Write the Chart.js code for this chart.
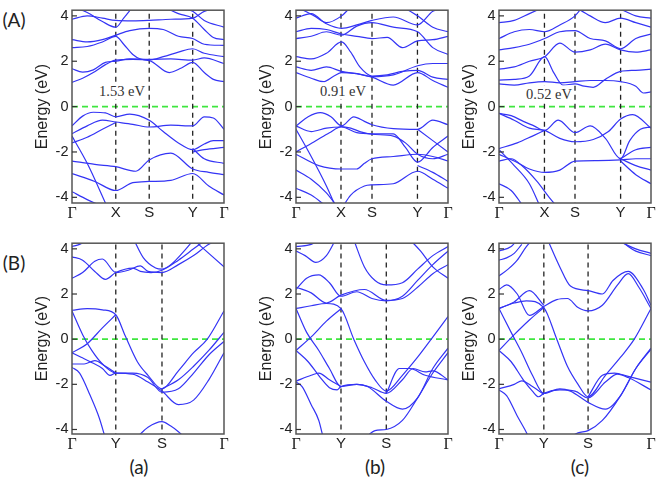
<!DOCTYPE html>
<html>
<head>
<meta charset="utf-8">
<script src="https://cdn.jsdelivr.net/npm/chart.js@4.4.1/dist/chart.umd.min.js"></script>
<style>
    body { margin: 0; background: #fff; width: 661px; height: 490px; position: relative; overflow: hidden; }
    canvas { position: absolute; }
    .lbl { position: absolute; font-family: Lato, "Open Sans", sans-serif; font-size: 19px; color: #222; transform: translate(-50%, -50%); white-space: nowrap; }
    .gap { position: absolute; font-family: "Liberation Serif", "DejaVu Serif", serif; font-size: 14.5px; color: #333; background: #fff; padding: 0 1px; transform: translate(-50%, -50%); white-space: nowrap; }
</style>
</head>
<body>
<div class="lbl" style="left:14px;top:19px">(A)</div>
<div class="lbl" style="left:14px;top:262px">(B)</div>
<div class="lbl" style="left:139px;top:466px">(a)</div>
<div class="lbl" style="left:375px;top:466px">(b)</div>
<div class="lbl" style="left:580px;top:466px">(c)</div>

<script>
// ===== AXIS LABELS =====
var tickNamesA = ['Γ', 'X', 'S', 'Y', 'Γ'];
var tickNamesB = ['Γ', 'Y', 'S', 'Γ'];
var energyTicks = [-4, -2, 0, 2, 4];
var gapLabels = ['1.53 eV', '0.91 eV', '0.52 eV'];

// high-symmetry point positions along the path (0..1)
var kTicksAa = [0, 0.288, 0.508, 0.794, 1];
var kTicksAb = [0, 0.296, 0.5, 0.799, 1];
var kTicksAc = [0, 0.299, 0.5, 0.8, 1];
var kTicksBa = [0, 0.288, 0.592, 1];
var kTicksBb = [0, 0.296, 0.594, 1];
var kTicksBc = [0, 0.295, 0.586, 1];

// ===== BANDS: [k, E (eV)] =====
var bandsAa = [
    [[0,1.07],[0.07,1.25],[0.14,1.5],[0.22,1.85],[0.288,2.05],[0.4,2.08],[0.508,2.03],[0.64,1.5],[0.72,1.7],[0.794,1.95],[0.87,1.5],[0.93,1.2],[1,1.1]],
    [[0,1.67],[0.07,1.52],[0.14,1.62],[0.22,1.95],[0.288,2.0],[0.38,2.1],[0.508,2.08],[0.65,2.1],[0.794,2.05],[0.87,2.15],[1,1.9]],
    [[0,2.6],[0.1,2.65],[0.2,2.85],[0.288,3.1],[0.34,2.75],[0.4,2.3],[0.45,2.1],[0.508,2.06],[0.6,2.2],[0.7,2.4],[0.794,2.55],[0.87,2.35],[1,2.2]],
    [[0,2.95],[0.1,2.85],[0.2,2.95],[0.288,3.15],[0.38,3.35],[0.508,3.45],[0.6,3.4],[0.7,3.1],[0.794,3.0],[0.87,2.75],[1,2.7]],
    [[0,3.85],[0.1,4.0],[0.2,3.9],[0.288,3.8],[0.4,3.78],[0.508,3.8],[0.65,3.85],[0.794,3.9],[0.87,4.2],[1,4.4]],
    [[0,4.4],[0.1,4.15],[0.2,3.75],[0.288,3.5],[0.34,3.9],[0.4,4.4]],
    [[0.6,4.4],[0.7,4.1],[0.794,3.9],[0.87,3.4],[0.93,3.05],[1,2.95]],
    [[0.7,4.4],[0.794,4.2],[0.87,3.8],[1,3.5]],
    [[0,-0.85],[0.07,-0.42],[0.14,-0.25],[0.22,-0.28],[0.288,-0.45],[0.38,-0.33],[0.508,-0.6],[0.6,-1.1],[0.7,-1.6],[0.794,-1.9],[0.87,-1.65],[0.93,-1.5],[1,-1.5]],
    [[0,-1.2],[0.1,-0.85],[0.2,-0.6],[0.288,-0.68],[0.4,-0.78],[0.508,-0.9],[0.65,-0.82],[0.794,-0.85],[0.87,-0.45],[0.93,-0.5],[1,-1.0]],
    [[0,-1.6],[0.1,-1.35],[0.2,-1.0],[0.288,-0.7]],
    [[0,-1.3],[0.1,-2.5],[0.23,-4.4]],
    [[0,-2.4],[0.15,-2.55],[0.288,-2.65],[0.42,-2.85],[0.508,-2.35],[0.65,-2.05],[0.794,-2.75],[0.9,-2.9],[1,-3.0]],
    [[0,-2.95],[0.15,-3.3],[0.288,-3.7],[0.4,-3.35],[0.508,-3.3],[0.65,-3.25],[0.794,-2.95],[0.9,-3.5],[1,-3.9]],
    [[0,-3.75],[0.1,-4.1],[0.2,-4.4]],
    [[0.794,-1.85],[0.87,-2.3],[1,-2.5]],
    [[0.794,-2.0],[0.87,-1.9],[1,-1.8]]
];

var bandsAb = [
    [[0,1.5],[0.1,1.25],[0.18,1.1],[0.25,1.35],[0.3,1.5],[0.4,1.45],[0.5,1.3],[0.64,0.95],[0.8,1.5],[0.9,1.15],[1,0.85]],
    [[0,1.75],[0.1,1.6],[0.2,1.75],[0.3,1.55],[0.4,1.45],[0.5,1.32],[0.64,1.4],[0.8,1.8],[0.9,1.9],[1,1.9]],
    [[0,2.2],[0.1,2.1],[0.2,2.35],[0.3,2.85],[0.36,2.4],[0.42,1.75],[0.5,1.35],[0.6,1.4],[0.7,1.55],[0.8,1.6],[0.9,1.3],[1,1.2]],
    [[0,3.0],[0.1,3.1],[0.2,3.3],[0.3,3.15],[0.4,3.55],[0.5,3.7],[0.64,3.5],[0.8,3.3],[0.9,2.6],[1,2.3]],
    [[0,3.3],[0.1,3.45],[0.2,3.4],[0.3,3.2],[0.4,3.1],[0.5,3.0],[0.6,3.05],[0.7,2.6],[0.8,2.9],[0.9,2.95],[1,3.1]],
    [[0,3.9],[0.1,4.1],[0.2,3.65],[0.3,3.45],[0.4,3.6],[0.5,3.8],[0.64,3.95],[0.8,3.6],[0.9,4.2],[1,4.4]],
    [[0,4.4],[0.12,4.0],[0.2,3.7],[0.3,4.0],[0.36,4.4]],
    [[0.7,4.4],[0.8,4.0],[0.9,3.5],[1,3.3]],
    [[0,-0.86],[0.08,-0.45],[0.16,-0.27],[0.23,-0.45],[0.3,-0.85],[0.38,-0.45],[0.45,-0.65],[0.5,-0.8],[0.64,-0.97],[0.8,-1.0],[0.9,-0.6],[1,-0.8]],
    [[0,-0.86],[0.1,-1.1],[0.2,-0.95],[0.3,-0.9],[0.4,-1.15],[0.5,-1.2],[0.64,-1.2],[0.72,-1.8],[0.8,-2.45],[0.9,-1.8],[1,-1.3]],
    [[0,-2.0],[0.12,-1.55],[0.22,-1.15],[0.3,-0.88],[0.36,-0.95],[0.42,-1.1],[0.5,-1.22],[0.64,-1.3],[0.72,-1.6],[0.8,-2.1],[0.9,-2.3],[1,-2.1]],
    [[0,-2.1],[0.15,-2.6],[0.3,-2.75],[0.4,-2.75],[0.45,-2.5],[0.5,-2.3],[0.64,-2.2],[0.8,-2.1],[0.9,-2.2],[1,-2.4]],
    [[0,-1.0],[0.1,-2.2],[0.2,-3.5],[0.26,-4.4]],
    [[0,-2.8],[0.1,-3.2],[0.2,-3.8],[0.27,-4.4]],
    [[0.3,-4.5],[0.36,-3.9],[0.45,-3.5],[0.5,-3.45],[0.64,-3.4],[0.8,-2.85],[0.9,-3.2],[1,-3.6]],
    [[0,-3.6],[0.1,-3.9],[0.2,-4.4]],
    [[0.8,-2.6],[0.9,-2.9],[1,-3.3]],
    [[0.8,-1.0],[0.9,-1.5],[1,-2.0]]
];

var bandsAc = [
    [[0,1.0],[0.1,0.95],[0.2,1.05],[0.3,1.1],[0.4,1.05],[0.5,1.1],[0.6,1.15],[0.7,1.15],[0.8,1.1],[0.9,0.9],[0.95,0.6],[1,0.65]],
    [[0,1.17],[0.1,1.2],[0.2,1.35],[0.3,2.2],[0.36,1.5],[0.42,0.95],[0.5,1.0],[0.56,0.9],[0.62,0.85],[0.7,1.2],[0.8,1.55],[0.9,1.6],[1,1.65]],
    [[0,1.65],[0.1,1.75],[0.2,2.0],[0.3,2.2],[0.4,2.8],[0.5,2.4],[0.6,2.5],[0.7,2.75],[0.8,2.5],[0.9,2.4],[1,2.5]],
    [[0,2.5],[0.1,2.6],[0.2,2.75],[0.3,3.0],[0.4,3.3],[0.5,3.35],[0.6,3.0],[0.7,2.9],[0.8,2.55],[0.9,3.0],[1,3.2]],
    [[0,3.0],[0.1,3.3],[0.2,3.4],[0.3,3.3],[0.4,3.6],[0.5,4.0],[0.55,4.4]],
    [[0,3.7],[0.1,3.8],[0.2,4.1],[0.3,4.4]],
    [[0.5,4.4],[0.6,4.0],[0.7,3.7],[0.8,3.9],[0.9,3.7],[1,3.5]],
    [[0.8,4.3],[0.9,4.0],[1,3.9]],
    [[0,-0.3],[0.08,-0.4],[0.16,-0.65],[0.23,-0.85],[0.3,-1.05],[0.39,-0.6],[0.5,-1.15],[0.6,-0.85],[0.7,-1.4],[0.8,-2.3],[0.86,-1.5],[0.93,-1.0],[1,-0.9]],
    [[0,-0.3],[0.1,-0.6],[0.2,-0.95],[0.3,-1.05],[0.4,-1.4],[0.5,-1.55],[0.62,-1.45],[0.72,-1.1],[0.8,-0.55],[0.88,-0.35],[1,-0.95]],
    [[0,-1.85],[0.12,-1.6],[0.22,-1.3],[0.3,-1.05]],
    [[0,-2.1],[0.1,-2.4],[0.2,-2.75],[0.3,-2.9],[0.4,-2.8],[0.5,-2.4],[0.65,-2.38],[0.8,-2.35],[0.9,-2.3],[1,-2.3]],
    [[0,-2.4],[0.08,-2.3],[0.15,-2.6],[0.25,-3.3],[0.33,-4.0],[0.38,-4.4]],
    [[0,-1.9],[0.1,-2.6],[0.2,-3.4],[0.27,-4.4]],
    [[0,-3.4],[0.08,-3.7],[0.16,-4.4]],
    [[0.8,-2.3],[0.9,-2.6],[1,-2.8]],
    [[0.8,-2.4],[0.9,-3.0],[1,-3.4]],
    [[0.8,-2.3],[0.9,-1.9],[1,-1.8]]
];

var bandsBa = [
    [[0,1.28],[0.1,1.35],[0.2,1.3],[0.288,1.08],[0.35,0.15],[0.43,-1.0],[0.5,-1.6],[0.592,-2.2],[0.7,-1.4],[0.8,-0.6],[0.89,0.0],[1,1.25]],
    [[0,1.25],[0.07,0.2],[0.13,-0.5],[0.2,-1.1],[0.288,-1.5],[0.4,-1.5],[0.5,-1.7],[0.592,-2.35],[0.7,-2.2],[0.8,-1.5],[0.9,-0.7],[1,-0.1]],
    [[0,-0.6],[0.1,-0.2],[0.2,0.5],[0.288,1.08]],
    [[0,-0.6],[0.06,-0.8],[0.12,-1.0],[0.2,-1.3],[0.25,-1.6],[0.288,-1.5],[0.4,-1.55],[0.5,-1.9],[0.592,-2.3],[0.7,-2.9],[0.8,-2.7],[0.9,-1.8],[1,-0.6]],
    [[0,-1.1],[0.08,-1.1],[0.15,-0.95],[0.22,-1.2],[0.288,-1.5]],
    [[0,-1.25],[0.05,-1.5],[0.12,-2.5],[0.18,-3.5],[0.22,-4.4]],
    [[0.42,-4.4],[0.5,-3.9],[0.592,-3.65],[0.65,-3.85],[0.7,-4.1],[0.75,-4.4]],
    [[0.592,-2.2],[0.7,-1.8],[0.8,-1.2],[0.9,-0.5],[1,0.3]],
    [[0,2.7],[0.07,2.95],[0.15,3.45],[0.2,3.55],[0.288,2.95],[0.37,3.05],[0.45,3.25],[0.5,3.0],[0.592,2.95],[0.7,3.3],[0.8,3.7],[0.9,4.2],[1,4.5]],
    [[0,3.65],[0.07,3.5],[0.15,3.0],[0.22,2.65],[0.288,2.95],[0.4,3.15],[0.45,3.0],[0.52,2.95],[0.592,3.05],[0.7,3.5],[0.8,4.0],[0.9,4.5]],
    [[0.4,4.5],[0.47,3.6],[0.55,3.15],[0.592,3.1],[0.65,3.3],[0.75,4.0],[0.8,4.4]],
    [[0,4.1],[0.05,4.2],[0.1,4.4]],
    [[0.8,4.4],[0.9,3.8],[1,3.2]]
];

var bandsBb = [
    [[0,1.36],[0.1,1.48],[0.2,1.58],[0.296,1.35],[0.38,0.0],[0.45,-1.0],[0.52,-1.8],[0.594,-2.3],[0.7,-1.6],[0.8,-0.8],[0.89,0.0],[1,1.0]],
    [[0,1.36],[0.07,0.3],[0.15,-0.5],[0.22,-1.3],[0.296,-2.1],[0.4,-2.0],[0.47,-2.1],[0.594,-2.75],[0.7,-3.1],[0.8,-2.6],[0.9,-1.3],[1,-0.4]],
    [[0,-0.5],[0.1,0.1],[0.2,0.8],[0.296,1.35]],
    [[0,-0.5],[0.08,-1.0],[0.16,-1.7],[0.22,-2.15],[0.27,-2.25],[0.296,-2.1],[0.4,-2.0],[0.5,-2.15],[0.594,-2.4],[0.7,-1.8],[0.77,-1.3],[0.85,-1.45],[0.9,-1.4],[1,-1.8]],
    [[0,-1.86],[0.1,-1.6],[0.15,-1.5],[0.22,-1.8],[0.296,-2.1]],
    [[0,-1.9],[0.04,-2.1],[0.1,-2.9],[0.15,-3.6],[0.18,-4.4]],
    [[0.45,-4.4],[0.52,-4.05],[0.594,-4.0],[0.7,-3.6],[0.8,-2.6],[0.9,-1.5],[1,-0.6]],
    [[0.594,-2.4],[0.68,-1.3],[0.75,-1.3],[0.85,-1.6],[1,-1.8]],
    [[0,2.2],[0.07,2.7],[0.15,2.85],[0.22,2.5],[0.296,1.9],[0.4,2.1],[0.5,1.8],[0.594,1.7],[0.7,1.9],[0.8,2.6],[0.9,3.3],[1,3.9]],
    [[0,2.3],[0.1,2.05],[0.2,1.6],[0.296,1.95],[0.45,2.2],[0.594,1.72],[0.7,1.8],[0.8,2.3],[0.9,2.9],[1,3.3]],
    [[0.38,4.4],[0.45,3.2],[0.52,2.6],[0.594,2.4],[0.7,2.5],[0.8,3.1],[0.9,3.7],[1,4.1]],
    [[0,3.9],[0.06,3.7],[0.13,3.4],[0.2,3.7],[0.26,4.4]],
    [[0,4.1],[0.1,4.2],[0.15,4.4]],
    [[0.75,4.4],[0.82,3.9],[0.9,3.2],[1,2.7]]
];

var bandsBc = [
    [[0,1.36],[0.1,1.6],[0.18,1.7],[0.295,1.4],[0.38,0.0],[0.45,-1.2],[0.52,-2.0],[0.586,-2.55],[0.7,-1.6],[0.8,-0.8],[0.89,0.0],[1,1.36]],
    [[0,1.36],[0.08,0.3],[0.15,-0.6],[0.22,-1.6],[0.295,-2.4],[0.4,-2.2],[0.47,-2.3],[0.586,-2.8],[0.7,-3.1],[0.8,-2.5],[0.9,-1.3],[1,-0.4]],
    [[0,-0.5],[0.1,0.2],[0.2,0.85],[0.295,1.4]],
    [[0,-0.5],[0.08,-1.0],[0.16,-1.8],[0.22,-2.3],[0.26,-2.55],[0.295,-2.4],[0.4,-2.25],[0.5,-2.3],[0.586,-2.6],[0.7,-1.9],[0.78,-1.55],[0.85,-1.7],[1,-2.25]],
    [[0,-2.2],[0.1,-2.0],[0.15,-1.85],[0.22,-2.1],[0.295,-2.45]],
    [[0,-2.25],[0.05,-2.5],[0.12,-3.4],[0.17,-4.0],[0.2,-4.4]],
    [[0.45,-4.4],[0.52,-4.15],[0.586,-4.05],[0.68,-3.6],[0.8,-2.5],[0.9,-1.3],[1,-0.45]],
    [[0.586,-2.55],[0.68,-1.6],[0.76,-1.5],[0.85,-1.65],[1,-1.9]],
    [[0,2.2],[0.05,2.4],[0.12,2.0],[0.2,1.05],[0.295,1.45],[0.38,1.75],[0.45,1.8],[0.52,1.4],[0.586,1.25],[0.68,1.5],[0.78,2.4],[0.85,2.9],[0.92,2.3],[1,1.36]],
    [[0,1.36],[0.1,1.65],[0.2,2.15],[0.295,1.5]],
    [[0.32,4.4],[0.4,3.2],[0.47,2.35],[0.586,2.15],[0.68,2.0],[0.75,2.6],[0.85,3.0],[0.95,2.2],[1,1.5]],
    [[0,2.8],[0.06,3.1],[0.12,3.5],[0.18,4.1],[0.22,4.4]],
    [[0,3.5],[0.05,3.6],[0.1,3.8],[0.15,4.2]],
    [[0,3.9],[0.08,4.1],[0.12,4.4]],
    [[0.8,4.4],[0.85,4.1],[0.9,3.9],[1,3.7]],
    [[0.8,4.3],[0.9,4.0],[1,3.8]]
];

// ===== FRAME + INNER TICKS =====
var framePlugin = {
    id: 'frame',
    afterDraw: function(chart) {
        var a = chart.chartArea;
        var ctx = chart.ctx;
        var ys = chart.scales.y;
        ctx.save();
        ctx.strokeStyle = '#555';
        ctx.lineWidth = 1.5;
        ctx.strokeRect(a.left, a.top, a.right - a.left, a.bottom - a.top);
        ctx.lineWidth = 1.2;
        ctx.strokeStyle = '#333';
        for (var i = 0; i < energyTicks.length; i++) {
            var py = ys.getPixelForValue(energyTicks[i]);
            ctx.beginPath();
            ctx.moveTo(a.left, py);
            ctx.lineTo(a.left + 5, py);
            ctx.stroke();
        }
        ctx.restore();
    }
};

// ===== ONE PANEL =====
function makePanel(plotLeft, plotTop, plotW, plotH, eMin, eMax, kTicks, names, bands) {
    var padTop = 6, padRight = 12, axisW = 72, axisH = 30;
    var cv = document.createElement('canvas');
    cv.width = axisW + plotW + padRight;
    cv.height = padTop + plotH + axisH;
    cv.style.left = (plotLeft - axisW) + 'px';
    cv.style.top = (plotTop - padTop) + 'px';
    document.body.appendChild(cv);

    var datasets = [];
    for (var i = 0; i < bands.length; i++) {
        datasets.push({
            data: bands[i].map(function(p) { return { x: p[0], y: p[1] }; }),
            borderColor: '#3434f5',
            borderWidth: 1.2,
            pointRadius: 0,
            cubicInterpolationMode: 'monotone',
            clip: 0
        });
    }
    for (var j = 1; j < kTicks.length - 1; j++) {
        datasets.push({
            data: [{ x: kTicks[j], y: eMin - 1 }, { x: kTicks[j], y: eMax + 1 }],
            borderColor: '#222',
            borderWidth: 1.3,
            borderDash: [5, 4],
            pointRadius: 0,
            clip: 0
        });
    }
    datasets.push({
        data: [{ x: 0, y: 0 }, { x: 1, y: 0 }],
        borderColor: '#3fe63f',
        borderWidth: 1.6,
        borderDash: [6, 4],
        pointRadius: 0,
        clip: 0
    });

    new Chart(cv, {
        type: 'line',
        data: { datasets: datasets },
        options: {
            responsive: false,
            animation: false,
            events: [],
            layout: { padding: { top: padTop, right: padRight, left: 0, bottom: 0 } },
            plugins: { legend: { display: false }, tooltip: { enabled: false } },
            scales: {
                x: {
                    type: 'linear',
                    min: 0,
                    max: 1,
                    afterBuildTicks: function(s) { s.ticks = kTicks.map(function(v) { return { value: v }; }); },
                    afterFit: function(s) { s.height = axisH; },
                    grid: { display: false, drawTicks: false },
                    border: { display: false },
                    ticks: {
                        autoSkip: false,
                        maxRotation: 0,
                        padding: 1,
                        color: '#222',
                        callback: function(v, idx) { return names[idx]; },
                        font: function(c) {
                            if (names[c.index] === 'Γ') return { family: 'Liberation Serif', size: 16 };
                            return { family: 'Liberation Sans', size: 15 };
                        }
                    }
                },
                y: {
                    min: eMin,
                    max: eMax,
                    afterBuildTicks: function(s) { s.ticks = energyTicks.map(function(v) { return { value: v }; }); },
                    afterFit: function(s) { s.width = axisW; },
                    grid: { display: false, drawTicks: false },
                    border: { display: false },
                    ticks: { padding: 3.5, color: '#222', font: { family: 'Liberation Sans', size: 14.5 } },
                    title: {
                        display: true,
                        text: 'Energy (eV)',
                        color: '#222',
                        font: { family: 'Liberation Sans', size: 16 },
                        padding: { top: 33.4, bottom: 0 }
                    }
                }
            }
        },
        plugins: [framePlugin]
    });
}

function addGap(text, x, y) {
    var d = document.createElement('div');
    d.className = 'gap';
    d.textContent = text;
    d.style.left = x + 'px';
    d.style.top = y + 'px';
    document.body.appendChild(d);
}

// ===== BUILD =====
makePanel(72, 4, 152, 199, -4.25, 4.25, kTicksAa, tickNamesA, bandsAa);
makePanel(296, 4, 152, 199, -4.25, 4.25, kTicksAb, tickNamesA, bandsAb);
makePanel(499, 4, 152, 199, -4.25, 4.25, kTicksAc, tickNamesA, bandsAc);
makePanel(72, 237, 152, 197, -4.2, 4.25, kTicksBa, tickNamesB, bandsBa);
makePanel(296, 237, 152, 197, -4.2, 4.25, kTicksBb, tickNamesB, bandsBb);
makePanel(499, 237, 152, 197, -4.2, 4.25, kTicksBc, tickNamesB, bandsBc);

addGap(gapLabels[0], 122, 91);
addGap(gapLabels[1], 343, 91);
addGap(gapLabels[2], 549, 94);
</script>
</body>
</html>
